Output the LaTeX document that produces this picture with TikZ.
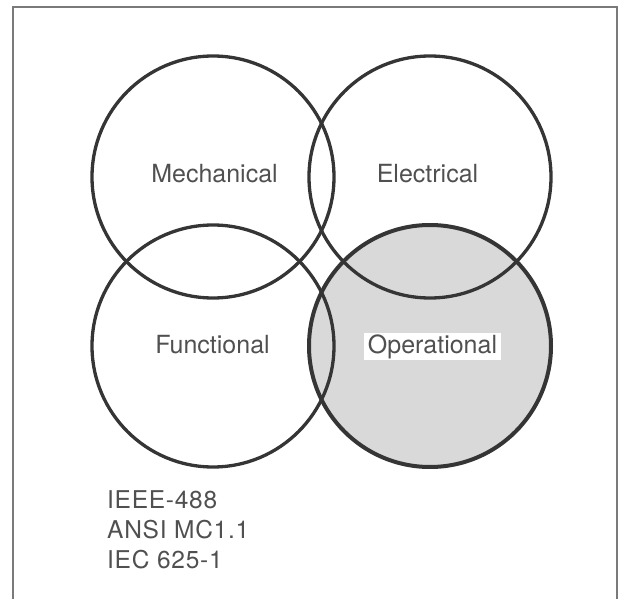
\documentclass[tikz,border=0pt]{standalone}
\usepackage{fontspec}
\setmainfont{TeX Gyre Heros}
\newfontfamily\spacedfont[LetterSpace=3]{TeX Gyre Heros}
\definecolor{txtgray}{HTML}{505050}
\definecolor{linegray}{HTML}{353535}
\definecolor{framegray}{HTML}{7A7A7A}
\definecolor{shade}{HTML}{D9D9D9}
\tikzset{
  venn/.style={circle, inner sep=0pt, outer sep=0pt, minimum size=242pt, draw=linegray, line width=3.3pt},
  lbl/.style={anchor=base, font=\fontsize{25}{28}\selectfont, text=txtgray, inner sep=0pt},
  stdlbl/.style={anchor=base west, font=\spacedfont\fontsize{24.5}{28}\selectfont, text=txtgray, inner sep=0pt},
}
\begin{document}
\begin{tikzpicture}[x=1pt, y=-1pt]
\useasboundingbox (0,0) rectangle (622,599);
% frame (open at bottom)
\draw[framegray, line width=2pt] (13,600) -- (13,7.5) -- (616.5,7.5) -- (616.5,600);
% shaded operational circle first
\node[venn, fill=shade, draw=none] (operfill) at (430,346) {};
% circles
\node[venn] (mech) at (213,177) {};
\node[venn] (elec) at (430,177) {};
\node[venn] (func) at (213,346) {};
\node[venn, line width=4pt] (oper) at (430,346) {};
% labels
\node[lbl] (lmech) at (214.5,183) {Mechanical};
\node[lbl] (lelec) at (427.5,183) {Electrical};
\node[lbl] (lfunc) at (212.5,353.5) {Functional};
\node[lbl, fill=white, inner xsep=4pt, inner ysep=0pt, text height=21pt, text depth=6pt] (loper) at (432.5,353.5) {Operational};
% standards
\node[stdlbl] (s1) at (107,508) {IEEE-488};
\node[stdlbl] (s2) at (107,538) {ANSI MC1.1};
\node[stdlbl] (s3) at (107,568) {IEC 625-1};
\end{tikzpicture}
\end{document}
